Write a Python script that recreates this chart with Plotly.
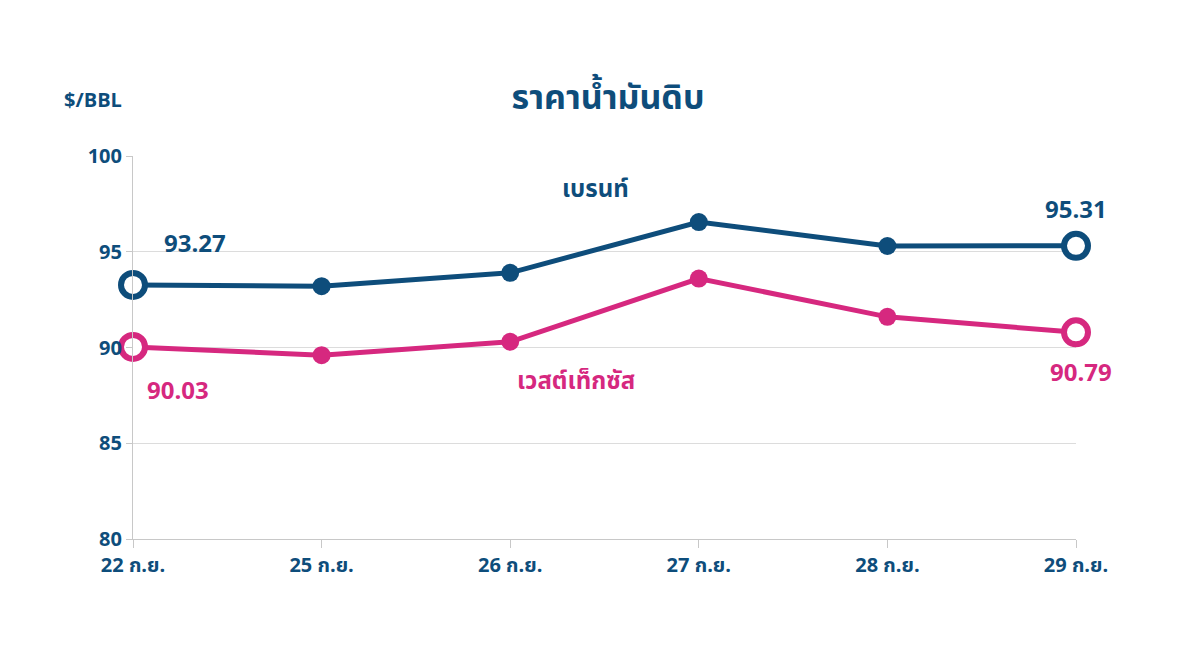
import plotly.graph_objects as go

dates = ["22 ก.ย.", "25 ก.ย.", "26 ก.ย.", "27 ก.ย.", "28 ก.ย.", "29 ก.ย."]
brent = [93.27, 93.2, 93.9, 96.55, 95.3, 95.31]
wti = [90.03, 89.6, 90.3, 93.6, 91.6, 90.79]
yticks = [80, 85, 90, 95, 100]

navy = "#0e4d7b"
pink = "#d6287f"
font = "Noto Sans Thai, Noto Sans, DejaVu Sans, sans-serif"
x = list(range(len(dates)))

fig = go.Figure()
for vals, col in [(brent, navy), (wti, pink)]:
    n = len(vals)
    fig.add_trace(go.Scatter(
        x=x, y=vals, mode="lines+markers", cliponaxis=False,
        line=dict(color=col, width=5),
        marker=dict(
            opacity=1,
            size=[24 if i in (0, n - 1) else 18 for i in range(n)],
            color=["white" if i in (0, n - 1) else col for i in range(n)],
            line=dict(color=col, width=[6 if i in (0, n - 1) else 0 for i in range(n)]),
        ),
        showlegend=False,
    ))

anns = [
    dict(x=0, y=brent[0], text=f"<b>{brent[0]:.2f}</b>", font_color=navy, xshift=62, yshift=40),
    dict(x=5, y=brent[5], text=f"<b>{brent[5]:.2f}</b>", font_color=navy, yshift=35),
    dict(x=0, y=wti[0], text=f"<b>{wti[0]:.2f}</b>", font_color=pink, xshift=45, yshift=-45),
    dict(x=5, y=wti[5], text=f"<b>{wti[5]:.2f}</b>", font_color=pink, xshift=5, yshift=-42),
    dict(x=2.45, y=98.2, text="<b>เบรนท์</b>", font_color=navy),
    dict(x=2.35, y=88.2, text="<b>เวสต์เท็กซัส</b>", font_color=pink),
]
for a in anns:
    fig.add_annotation(showarrow=False, font=dict(size=24, family=font, color=a.pop("font_color")), **a)

fig.add_annotation(text="<b>$/BBL</b>", xref="paper", yref="paper", x=-0.075, y=1.1,
                   showarrow=False, xanchor="left", yanchor="bottom",
                   font=dict(size=20, family=font, color=navy))

fig.update_layout(
    title=dict(text="<b>ราคาน้ำมันดิบ</b>", x=0.5, y=0.88, xanchor="center",
               font=dict(size=34, family=font, color=navy)),
    width=1200, height=645,
    margin=dict(l=125, r=132, t=148, b=114, autoexpand=False),
    plot_bgcolor="white", paper_bgcolor="white",
    xaxis=dict(range=[0, 5], tickvals=x, ticktext=[f"<b>{d}</b>" for d in dates], showgrid=False,
               showline=True, linecolor="#c8c8c8", ticks="outside", tickcolor="#c8c8c8",
               ticklen=8, zeroline=False, automargin=False,
               tickfont=dict(size=20, family=font, color=navy)),
    yaxis=dict(range=[80, 100], tickvals=yticks, ticktext=[f"<b>{v}</b>" for v in yticks],
               gridcolor="#dcdcdc",
               showline=True, linecolor="#c8c8c8", ticks="outside", tickcolor="#c8c8c8",
               ticklen=6, zeroline=False, automargin=False,
               tickfont=dict(size=20, family=font, color=navy)),
)
fig.write_html("out.html")
